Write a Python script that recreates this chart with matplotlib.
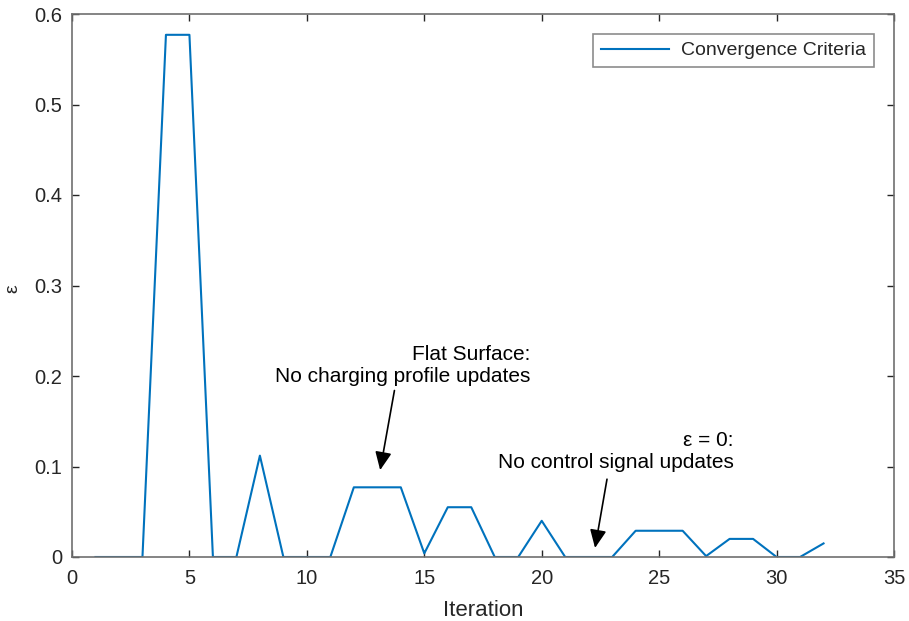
import matplotlib
matplotlib.use("Agg")
import matplotlib.pyplot as plt

iterations = list(range(1, 33))
epsilon = [0, 0, 0, 0.577, 0.577, 0, 0, 0.112, 0, 0, 0, 0.077, 0.077, 0.077, 0.004,
           0.055, 0.055, 0, 0, 0.040, 0, 0, 0, 0.029, 0.029, 0.029, 0.001, 0.020,
           0.020, 0, 0, 0.015]
xticks = [0, 5, 10, 15, 20, 25, 30, 35]
yticks = [0, 0.1, 0.2, 0.3, 0.4, 0.5, 0.6]

plt.rcParams['font.family'] = ['Liberation Sans', 'DejaVu Sans']
gray = '#262626'
fig = plt.figure(figsize=(9.09, 6.21), dpi=100)
ax = fig.add_axes([72/909, 1-557/621, (894-72)/909, (557-14)/621])
ax.plot(iterations, epsilon, color='#0072BD', lw=1.5, label='Convergence Criteria')
ax.set_xlim(0, 35)
ax.set_ylim(0, 0.6)
ax.set_xticks(xticks)
ax.set_yticks(yticks)
ax.set_yticklabels(['0', '0.1', '0.2', '0.3', '0.4', '0.5', '0.6'])
ax.tick_params(direction='in', length=5, width=1, colors=gray, labelsize=14.5, top=True, right=True,
               labeltop=False, labelright=False)
ax.tick_params(axis='x', pad=9)
ax.tick_params(axis='y', pad=7)
for s in ax.spines.values():
    s.set_color('#707070')
    s.set_linewidth(1.2)
ax.set_xlabel('Iteration', fontsize=16, color=gray, labelpad=8)
ax.set_ylabel('ε', fontsize=14, color=gray)
ax.yaxis.set_label_coords(-0.062, 0.495)

leg = ax.legend(loc='upper right', bbox_to_anchor=(0.987, 0.981), fontsize=14, frameon=True,
                fancybox=False, handlelength=3.5, borderpad=0.4, handletextpad=0.6)
leg.get_frame().set_edgecolor('#707070')
leg.get_frame().set_linewidth(1.2)
for t in leg.get_texts():
    t.set_color(gray)

ax.annotate('', xy=(13.1, 0.093), xytext=(13.75, 0.187),
            arrowprops=dict(arrowstyle='-|>,head_length=1.1,head_width=0.5', color='black', lw=1.2))
ax.text(19.5, 0.212, 'Flat Surface:\nNo charging profile updates', ha='right', va='center',
        multialignment='right', fontsize=15, color='black', linespacing=1.2)
ax.annotate('', xy=(22.25, 0.007), xytext=(22.8, 0.089),
            arrowprops=dict(arrowstyle='-|>,head_length=1.1,head_width=0.5', color='black', lw=1.2))
ax.text(28.18, 0.1166, 'ε = 0:\nNo control signal updates', ha='right', va='center',
        multialignment='right', fontsize=15, color='black', linespacing=1.2)

fig.savefig('out.png', dpi=100, facecolor='white')
